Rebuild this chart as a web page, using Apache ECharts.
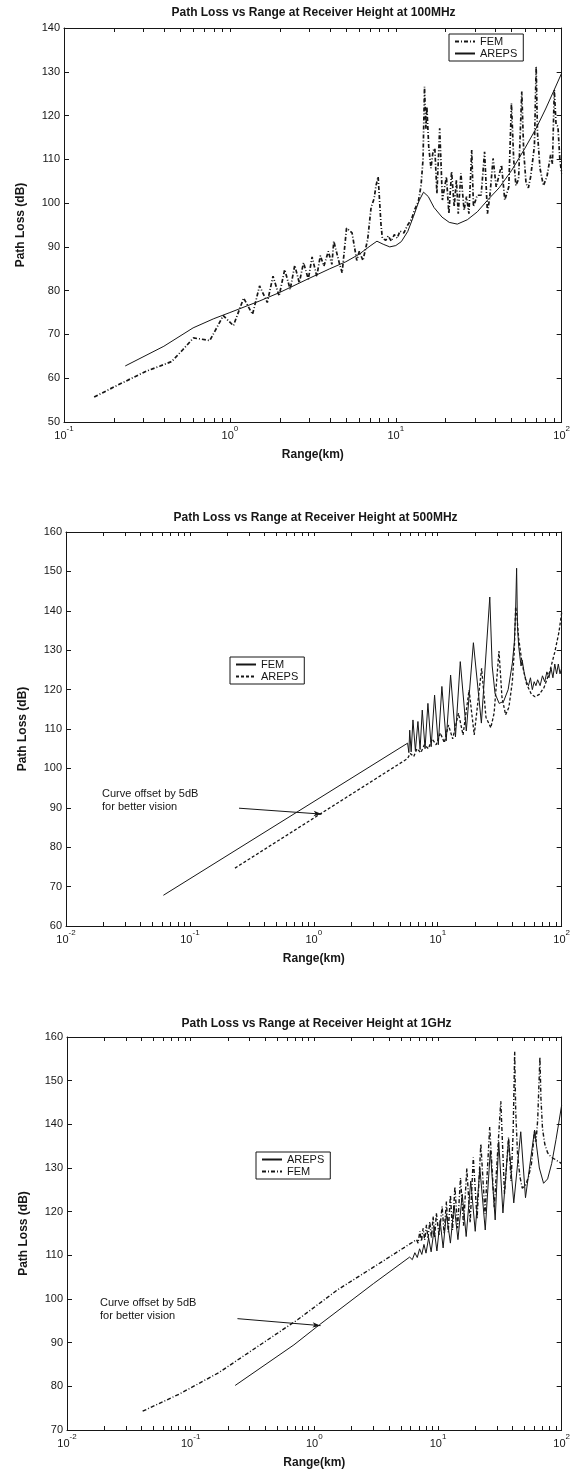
<!DOCTYPE html>
<html>
<head>
<meta charset="utf-8">
<script src="https://cdn.jsdelivr.net/npm/echarts@6/dist/echarts.min.js"></script>
<style>html,body{margin:0;padding:0;background:#fff}</style>
</head>
<body>
<div id="container" style="width:573px;height:1470px"></div>
<script>
// ---- data: [range km, path loss dB] ----
var fem100 = [[0.152,55.7],[0.2,58],[0.25,59.8],[0.313,61.6],[0.38,62.8],[0.445,63.8],[0.52,66.5],[0.603,69.2],[0.68,68.9],[0.757,68.6],[0.912,74.3],[1.05,72.0],[1.21,78.3],[1.37,74.6],[1.51,81.1],[1.68,77.3],[1.82,83.3],[1.98,78.8],[2.14,84.8],[2.31,80.3],[2.46,85.8],[2.62,81.8],[2.78,86.4],[2.97,82.6],[3.13,87.7],[3.34,83.3],[3.51,88.0],[3.69,85.6],[3.92,89.0],[4.12,86.0],[4.23,91.3],[4.56,86.4],[4.75,84.1],[5.05,94.3],[5.45,93.2],[5.82,86.9],[6.03,89.0],[6.34,86.9],[6.77,91.7],[7.1,99],[7.4,101],[7.6,104],[7.83,106],[8.0,100],[8.15,95],[8.3,92],[8.7,91.5],[9.0,92.5],[9.4,91.3],[9.8,92.8],[10.2,92.0],[10.6,93.6],[11.2,93.2],[11.8,95.0],[12.4,96.2],[13.0,98.5],[13.7,100.5],[14.2,104],[14.6,110],[14.9,126.6],[15.2,117],[15.4,122],[15.8,112.9],[16.3,108],[16.8,112],[17.2,112.5],[17.7,102.2],[18.4,117.1],[19.1,100.7],[20.2,106],[20.9,97.6],[21.7,107.2],[22.5,99.2],[23.2,105.3],[23.8,97.6],[24.7,106.8],[25.8,98.4],[26.7,101.5],[27.6,97.6],[28.7,112.1],[29.4,99.2],[31.0,101.8],[32.7,101.8],[34.3,111.7],[35.7,97.6],[37,102],[38.6,110.2],[40.3,103.7],[43.4,108.7],[45.4,100.7],[48,103.7],[49.8,122.8],[51.4,109.8],[53,104],[55,105.5],[57.5,125.5],[59,112],[61,104.5],[63,103.5],[65,106],[67,110],[68.5,113],[70.2,131.2],[71.5,116],[74,108],[77.6,104],[81.5,106],[85.8,111],[88,109],[90.3,125.9],[92.5,118],[95,117.5],[97.5,110],[100,106.8]];
var areps100 = [[0.234,62.8],[0.4,67.3],[0.6,71.5],[0.8,73.6],[1,75],[1.5,77.6],[2,79.6],[3,82.8],[4,85],[5,86.6],[6,88.3],[7,90.2],[7.7,91.3],[8.4,90.6],[9.2,90.0],[10,90.3],[10.8,91.2],[11.8,93.5],[12.8,97],[13.8,100.5],[14.7,102.5],[15.7,101.5],[17,99],[19,96.8],[21,95.6],[23.5,95.2],[27,96.2],[31,98],[36,100.8],[42,103.5],[50,107.5],[60,112.5],[70,117],[80,121.5],[90,125.8],[100,129.7]];

var fem500 = [[0.0611,67.8],[5.71,106.4],[5.85,104],[5.94,109.7],[6.1,104.2],[6.31,112.3],[6.6,104.5],[6.92,111.9],[7.2,104.8],[7.5,114.8],[7.9,105],[8.33,116.5],[8.85,105.5],[9.43,118.6],[10.1,106],[10.8,120.8],[11.7,107],[12.7,123.7],[13.9,108],[15.2,127.1],[17.0,109.5],[19.4,131.9],[22.5,111.5],[26.3,143.5],[27.5,126],[29,119],[31.3,116.5],[34,117],[37,120],[40,126.7],[41.5,132],[42.5,140],[43.3,150.8],[44,136],[45,131],[46,128.5],[47,126],[48,127.5],[50,124],[52,122],[54,121],[56,123],[58,120],[60,122],[62,121],[64,122.5],[67,121],[70,123.5],[73,122],[76,124.5],[79,123],[82,125.5],[85,123],[88,126.5],[91,124],[94,126.5],[97,124],[100,125.5]];
var areps500 = [[0.231,74.7],[5.71,102.5],[6.0,103.8],[6.4,103],[6.8,105],[7.3,104],[7.8,106],[8.4,105],[9.0,107.5],[9.7,106],[10.5,109],[11.3,106.5],[12.2,111],[13.2,107.5],[14.7,114],[16.0,108.5],[17.9,119.9],[19.7,108.5],[22.6,125.4],[24.5,113],[26.8,110.3],[28.5,114],[31.2,129.8],[33,118],[35.3,113.6],[37.5,115.5],[40,122],[41.5,130],[42.5,141],[43.5,139],[45,133],[48,126.5],[52,121.5],[57,118.8],[61,118.2],[66,118.8],[72,120.5],[80,124.5],[88,129.5],[95,134.5],[100,139.5]];

var areps1g = [[0.229,80.2],[0.684,89.5],[1.1,94.1],[3.0,103.5],[5.9,109.6],[6.2,109],[6.5,110.6],[6.8,109.5],[7.1,111.5],[7.4,110.2],[7.7,112.5],[8.0,110.5],[8.4,114],[8.8,110.8],[9.3,116],[9.8,111],[10.4,118],[11.0,111.7],[11.7,119.5],[12.6,112.8],[13.5,121.5],[14.5,113.6],[15.7,124],[16.9,114.3],[18.4,127],[20.0,115.5],[21.8,130],[24.1,115.8],[26.5,134],[29.0,118.1],[31,136],[33.5,119.7],[37.2,136.6],[41,122],[46.7,138.3],[51,123.2],[60.4,138.7],[66,130],[71.4,126.5],[77,127.5],[83,131],[90,136.5],[95,140.5],[100,144.4]];
var fem1g = [[0.0409,74.3],[0.0805,78.2],[0.168,83.1],[0.352,89.2],[0.736,95.3],[1.54,102.1],[3.21,107.8],[6.71,113.6],[6.9,112.8],[7.13,115.5],[7.35,113.2],[7.58,116.2],[7.8,113.5],[8.07,117.0],[8.3,113.8],[8.58,117.7],[8.85,114.0],[9.13,118.9],[9.4,114.2],[9.7,119.7],[10.2,114.5],[10.8,121.2],[11.2,115],[11.7,122.3],[12.1,115.3],[12.6,123.8],[13.1,115.8],[13.7,125.7],[14.4,116.2],[15.2,127.7],[16.1,116.8],[17.1,129.9],[18.2,117.5],[19.3,132.4],[20.7,118.3],[22.2,135.5],[24,119.5],[26.2,139.4],[28.5,121],[32.2,145.3],[34.5,124],[37.2,137],[39,127],[40.5,138],[41.7,156.6],[42.5,143],[44,133],[46,128],[48,125.4],[51,126],[54,128],[57,131],[60.4,138.6],[62,136],[64,141],[66.7,155.4],[68,146],[70,139],[73,135.5],[77,133.5],[82,132.5],[88,132],[94,131.5],[100,131]];

var titles = ['Path Loss vs Range at Receiver Height at 100MHz',
              'Path Loss vs Range at Receiver Height at 500MHz',
              'Path Loss vs Range at Receiver Height at 1GHz'];
var xRanges = [[0.1, 100], [0.01, 100], [0.01, 100]];
var yRanges = [[50, 140], [60, 160], [70, 160]];
var note = 'Curve offset by 5dB\nfor better vision';

var FONT = '"Liberation Sans", Arial, sans-serif';
var INK = '#161616';

var grids = [
  {left: 64, top: 28, width: 499, height: 394},
  {left: 66, top: 532, width: 499, height: 394},
  {left: 67, top: 1037, width: 499, height: 394}
];
var titleTops = [7, 512, 1018];

function logTicks(min, max) {
  var out = [];
  for (var d = min; d < max * 0.999; d *= 10) {
    for (var k = 1; k <= 9; k++) out.push(+(d * k).toPrecision(3));
  }
  out.push(max);
  return out;
}
function expLabel(v) {
  var e = Math.round(Math.log(v) / Math.LN10);
  return '{b|10}{s|' + e + '}';
}

var xAxes = [], yAxes = [];
grids.forEach(function (g, i) {
  var xr = xRanges[i], yr = yRanges[i];
  ['bottom', 'top'].forEach(function (pos) {
    xAxes.push({
      type: 'log', logBase: 10, gridIndex: i, min: xr[0], max: xr[1], position: pos,
      axisLine: {show: true, onZero: false, lineStyle: {color: INK, width: 1}},
      axisTick: {show: true, inside: true, length: 4, customValues: logTicks(xr[0], xr[1]), lineStyle: {color: INK}},
      axisLabel: {show: pos === 'bottom', margin: 3, formatter: expLabel, color: INK,
        rich: {b: {fontSize: 11, fontFamily: FONT, color: INK, lineHeight: 16, verticalAlign: 'bottom'},
               s: {fontSize: 8, fontFamily: FONT, color: INK, lineHeight: 8, verticalAlign: 'top'}}},
      splitLine: {show: false},
      name: pos === 'bottom' ? 'Range(km)' : '', nameLocation: 'middle', nameGap: 27,
      nameTextStyle: {fontSize: 12, fontWeight: 'bold', fontFamily: FONT, color: INK}
    });
  });
  ['left', 'right'].forEach(function (pos) {
    yAxes.push({
      type: 'value', gridIndex: i, min: yr[0], max: yr[1], interval: 10, position: pos,
      axisLine: {show: true, onZero: false, lineStyle: {color: INK, width: 1}},
      axisTick: {show: true, inside: true, length: 5, lineStyle: {color: INK}},
      axisLabel: {show: pos === 'left', margin: 4, fontSize: 11, fontFamily: FONT, color: INK},
      splitLine: {show: false},
      name: pos === 'left' ? 'Path Loss (dB)' : '', nameLocation: 'middle', nameGap: 37,
      nameTextStyle: {fontSize: 12, fontWeight: 'bold', fontFamily: FONT, color: INK}
    });
  });
});

function lineSeries(name, idx, data, width, dash, extra) {
  var s = {
    name: name, type: 'line', xAxisIndex: idx * 2, yAxisIndex: idx * 2,
    data: data, symbol: 'none', silent: true, animation: false, color: INK,
    itemStyle: {color: INK},
    lineStyle: {color: INK, width: width, type: dash}
  };
  if (extra) s.markLine = extra;
  return s;
}
function arrow(from, to) {
  return {
    silent: true, animation: false, symbol: ['none', 'arrow'], symbolSize: [4, 8],
    label: {show: false}, lineStyle: {color: INK, width: 1, type: 'solid'},
    data: [[{coord: from}, {coord: to}]]
  };
}

var series = [
  lineSeries('FEM|1', 0, fem100, 1.7, [4, 2, 1, 2]),
  lineSeries('AREPS|1', 0, areps100, 1, 'solid'),
  lineSeries('FEM|2', 1, fem500, 1, 'solid'),
  lineSeries('AREPS|2', 1, areps500, 1.3, [3, 2], arrow([0.249, 89.9], [1.155, 88.4])),
  lineSeries('AREPS|3', 2, areps1g, 1, 'solid', arrow([0.239, 95.5], [1.123, 93.9])),
  lineSeries('FEM|3', 2, fem1g, 1.4, [4, 2, 1, 2])
];

function legendBox(left, top, names) {
  return {
    orient: 'vertical', left: left, top: top, data: names, selectedMode: false,
    formatter: function (n) { return n.split('|')[0]; },
    itemWidth: 20, itemHeight: 10, itemGap: 1, padding: [2, 6, 2, 5],
    borderColor: INK, borderWidth: 1, backgroundColor: '#fff',
    itemStyle: {opacity: 0, borderWidth: 0},
    textStyle: {fontSize: 11, fontFamily: FONT, color: INK}
  };
}

var option = {
  backgroundColor: '#fff',
  animation: false,
  title: titles.map(function (t, i) {
    return {text: t, left: grids[i].left + grids[i].width / 2, top: titleTops[i], textAlign: 'center', padding: 0,
      textStyle: {fontSize: 12, fontWeight: 'bold', fontFamily: FONT, color: INK}};
  }),
  grid: grids,
  xAxis: xAxes,
  yAxis: yAxes,
  legend: [
    legendBox(449, 34, ['FEM|1', 'AREPS|1']),
    legendBox(230, 657, ['FEM|2', 'AREPS|2']),
    legendBox(256, 1152, ['AREPS|3', 'FEM|3'])
  ],
  graphic: [
    {type: 'text', left: 102, top: 787, silent: true,
     style: {text: note, font: '11px ' + FONT, fill: INK, lineHeight: 13}},
    {type: 'text', left: 100, top: 1296, silent: true,
     style: {text: note, font: '11px ' + FONT, fill: INK, lineHeight: 13}}
  ],
  series: series
};

var myChart = echarts.init(document.getElementById('container'));
myChart.setOption(option);
</script>
</body>
</html>
